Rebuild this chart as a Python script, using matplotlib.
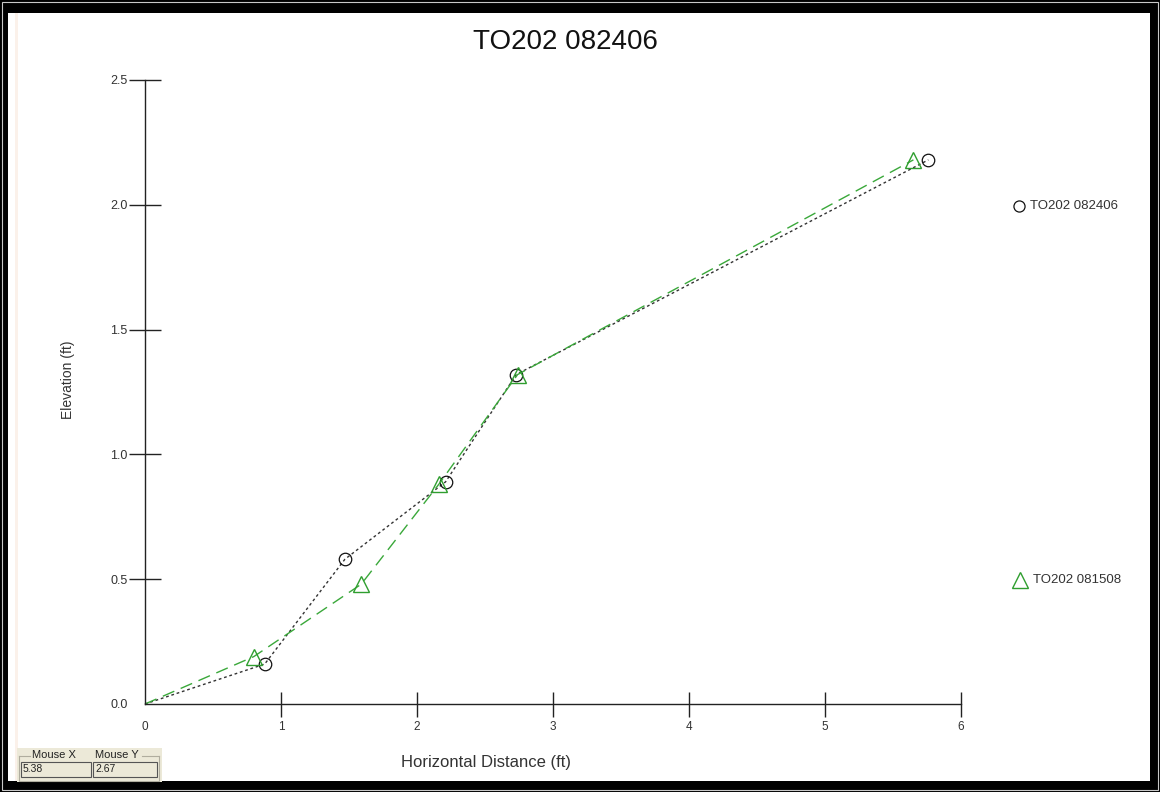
import matplotlib
matplotlib.use("Agg")
import matplotlib.pyplot as plt
from matplotlib.patches import Rectangle

plt.rcParams['font.family'] = ['Liberation Sans', 'DejaVu Sans']

# Survey profile data
dist_082406 = [0.0, 0.88, 1.47, 2.21, 2.73, 5.76]
elev_082406 = [0.0, 0.16, 0.58, 0.89, 1.32, 2.18]

dist_081508 = [0.0, 0.80, 1.59, 2.16, 2.74, 5.65]
elev_081508 = [0.0, 0.19, 0.48, 0.88, 1.32, 2.18]

x_ticks = [0, 1, 2, 3, 4, 5, 6]
y_ticks = [0.0, 0.5, 1.0, 1.5, 2.0, 2.5]
y_tick_labels = ["0.0", "0.5", "1.0", "1.5", "2.0", "2.5"]

title_text = "TO202 082406"
series_names = ["TO202 082406", "TO202 081508"]
mouse_x, mouse_y = "5.38", "2.67"

W, H = 1160, 792
fig = plt.figure(figsize=(W / 100, H / 100), dpi=100)
fig.patch.set_facecolor("white")


def px(x, y):
    """pixel (top-left origin) -> figure fraction"""
    return x / W, 1 - y / H


def prect(x0, y0, x1, y1, **kw):
    fx0, fy1 = px(x0, y1)
    r = Rectangle((fx0, fy1), (x1 - x0) / W, (y1 - y0) / H,
                  transform=fig.transFigure, **kw)
    fig.add_artist(r)
    return r


# Window frame
prect(0, 0, W, H, facecolor="black", edgecolor="none", zorder=0)
prect(2, 2, W - 2, H - 2, facecolor="none", edgecolor="#c8c8c8", lw=0.8, zorder=0.5)
prect(8, 13, 1150, 781, facecolor="white", edgecolor="none", zorder=1)
prect(15, 13, 18, 781, facecolor="#fbf1ea", edgecolor="none", zorder=1.1)

# Plot area
ax_l, ax_r, ax_t, ax_b = 145, 961, 80, 704
fl, fb = px(ax_l, ax_b)
ax = fig.add_axes([fl, fb, (ax_r - ax_l) / W, (ax_b - ax_t) / H])
ax.set_facecolor("none")
ax.set_zorder(2)

pts = list(range(1, len(dist_082406)))
ax.plot(dist_082406, elev_082406, color="#333333", lw=1.0,
        linestyle=(0, (2.0, 2.0)), marker="o", markersize=9,
        markevery=pts, markerfacecolor="none", markeredgecolor="#111111",
        markeredgewidth=0.9, clip_on=False)
pts = list(range(1, len(dist_081508)))
ax.plot(dist_081508, elev_081508, color="#3aa83a", lw=1.0,
        linestyle=(0, (9, 5)), marker="^", markersize=12,
        markevery=pts, markerfacecolor="none", markeredgecolor="#2f9e2f",
        markeredgewidth=1.0, clip_on=False)

ax.set_xlim(0, 6)
ax.set_ylim(0, 2.5)
for s in ("top", "right"):
    ax.spines[s].set_visible(False)
for s in ("left", "bottom"):
    ax.spines[s].set_color("#222222")
    ax.spines[s].set_linewidth(1.0)

ax.set_xticks(x_ticks)
ax.set_xticklabels([str(v) for v in x_ticks])
ax.set_yticks(y_ticks)
ax.set_yticklabels(y_tick_labels)
ax.tick_params(axis="x", direction="inout", length=18, width=1.0,
               color="#222222", labelsize=8.5, labelcolor="#333333", pad=3)
ax.tick_params(axis="y", direction="inout", length=23, width=1.0,
               color="#222222", labelsize=9, labelcolor="#333333", pad=1)
ax.xaxis.get_major_ticks()[0].tick1line.set_visible(False)
ax.yaxis.get_major_ticks()[0].tick1line.set_visible(False)

# Titles and axis labels
fig.text(*px(565, 42), title_text, ha="center", va="center",
         fontsize=20, color="#111111")
fig.text(*px(68, 380), "Elevation (ft)", ha="center", va="center",
         rotation=90, fontsize=10, color="#333333")
fig.text(*px(486, 762), "Horizontal Distance (ft)", ha="center",
         va="center", fontsize=12, color="#333333")

# Legend entries on the right
lg = fig.add_axes([0, 0, 1, 1], facecolor="none")
lg.set_xlim(0, W)
lg.set_ylim(H, 0)
lg.axis("off")
lg.set_zorder(3)
lg.plot([1019], [206], marker="o", markersize=8, markerfacecolor="none",
        markeredgecolor="#111111", markeredgewidth=0.9)
lg.text(1030, 206, series_names[0], ha="left", va="center",
        fontsize=9.5, color="#333333")
lg.plot([1020], [580], marker="^", markersize=11, markerfacecolor="none",
        markeredgecolor="#2f9e2f", markeredgewidth=1.0)
lg.text(1033, 580, series_names[1], ha="left", va="center",
        fontsize=9.5, color="#333333")

# Mouse readout panel
panel = "#ece9d8"
lg.add_patch(Rectangle((17, 748), 145, 34, facecolor=panel,
                       edgecolor="none", zorder=4))
lg.plot([19, 30], [756, 756], color="#b0ad9e", lw=0.8, zorder=5)
lg.plot([19, 19, 159, 159], [756, 781, 781, 756], color="#b0ad9e",
        lw=0.8, zorder=5)
lg.plot([142, 159], [756, 756], color="#b0ad9e", lw=0.8, zorder=5)
lg.text(32, 755, "Mouse X", ha="left", va="center", fontsize=8,
        color="#222222", zorder=6)
lg.text(95, 755, "Mouse Y", ha="left", va="center", fontsize=8,
        color="#222222", zorder=6)
for x0, x1, val in ((21, 91, mouse_x), (93, 157, mouse_y)):
    lg.add_patch(Rectangle((x0, 762), x1 - x0, 15, facecolor=panel,
                           edgecolor="#555555", lw=0.8, zorder=5))
    lg.text(x0 + 2, 769.5, val, ha="left", va="center", fontsize=7.5,
            color="#222222", zorder=6)

fig.savefig("out.png", dpi=100, facecolor=fig.get_facecolor())
